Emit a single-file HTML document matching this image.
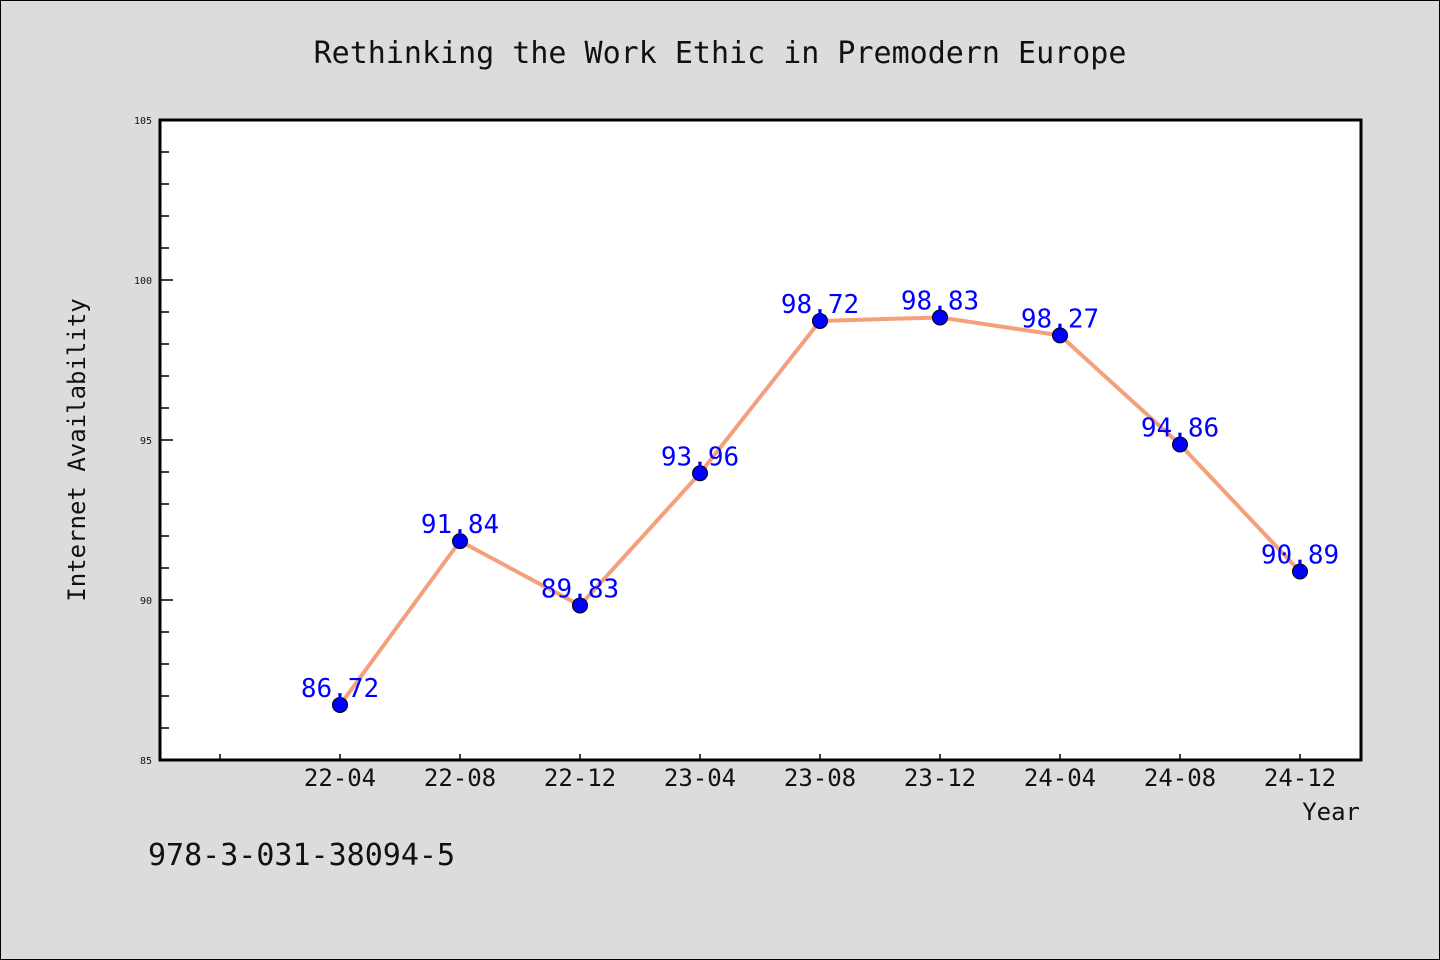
<!DOCTYPE html>
<html><head><meta charset="utf-8"><style>
body{margin:0;background:#dcdcdc;}
svg{display:block;font-family:"DejaVu Sans Mono","Liberation Mono",monospace;}
</style></head><body>
<svg id="chart" width="1440" height="960">
<rect x="0.5" y="0.5" width="1439" height="959" fill="#dcdcdc" stroke="#000"/>
<text x="720" y="63" text-anchor="middle" font-size="30" fill="#111">Rethinking the Work Ethic in Premodern Europe</text>
<rect x="160" y="120" width="1201" height="640" fill="#fff"/>
<g id="axes"></g>
<g id="marks"></g>
<rect x="160" y="120" width="1201" height="640" fill="none" stroke="#000" stroke-width="3"/>
<text transform="translate(85,450) rotate(-90)" text-anchor="middle" font-size="24" fill="#111">Internet Availability</text>
<text x="1360" y="820" text-anchor="end" font-size="24" fill="#111">Year</text>
<text x="148" y="865" font-size="30" fill="#111">978-3-031-38094-5</text>
</svg>
<script>
const categories=["22-04","22-08","22-12","23-04","23-08","23-12","24-04","24-08","24-12"];
const values=[86.72,91.84,89.83,93.96,98.72,98.83,98.27,94.86,90.89];
const yTicks=[85,90,95,100,105];
const NS="http://www.w3.org/2000/svg";
const x=i=>340+i*120;
const y=v=>760-(v-85)*32;
const axes=document.getElementById('axes'),marks=document.getElementById('marks');
function mk(tag,attrs,parent){const e=document.createElementNS(NS,tag);for(const k in attrs)e.setAttribute(k,attrs[k]);parent.appendChild(e);return e;}
for(let v=85;v<=105;v++){
  const major=yTicks.includes(v);
  const t=mk('line',{x1:160,x2:major?173:169,y1:y(v),y2:y(v),stroke:'#000','stroke-width':1.5},axes);
  
  
}
yTicks.forEach(v=>{
  const t=mk('text',{x:152,y:y(v)+4,'text-anchor':'end','font-size':10,fill:'#111'},axes);
  t.textContent=v;
  
  
});
for(let i=-1;i<categories.length;i++){
  const t=mk('line',{x1:x(i),x2:x(i),y1:760,y2:754,stroke:'#000','stroke-width':1.5},axes);
  
  
}
categories.forEach((c,i)=>{
  const t=mk('text',{x:x(i),y:786,'text-anchor':'middle','font-size':24,fill:'#111'},axes);
  t.textContent=c;
  
  
});
const line=mk('polyline',{points:values.map((v,i)=>x(i)+','+y(v)).join(' '),fill:'none',stroke:'#f4a07c','stroke-width':4,'stroke-linejoin':'round'},marks);


values.forEach((v,i)=>{
  const c=mk('circle',{cx:x(i),cy:y(v),r:7.5,fill:'#0000ff',stroke:'#000','stroke-width':1},marks);
  
  
  const t=mk('text',{x:x(i),y:y(v)-8,'text-anchor':'middle','font-size':26,fill:'#0000ff'},marks);
  t.textContent=v.toFixed(2);
  
  
});
</script>
</body></html>
